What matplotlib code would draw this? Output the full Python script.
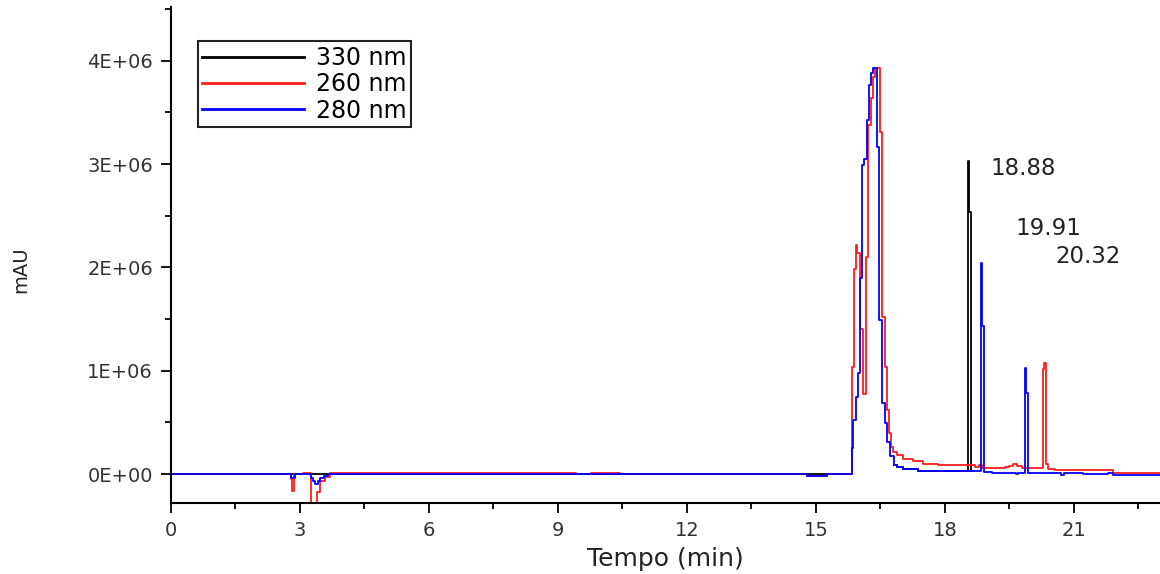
import numpy as np
import matplotlib
matplotlib.use("Agg")
import matplotlib.pyplot as plt
from matplotlib.ticker import MultipleLocator, FuncFormatter

# retention time (min) / signal in millions of mAU, drawn as steps
t_330 = [0, 15.83, 16.81, 16.88, 17.02, 17.37, 18.53, 18.56, 18.61, 18.64]
y_330 = [0, np.nan, 0.09, 0.07, 0.05, 0.03, 3.03, 2.54, 0.03, np.nan]

t_260 = [0, 2.79, 2.81, 2.86, 3.07, 3.25, 3.39, 3.47, 3.58, 3.70,
         9.42, 9.77, 10.44, 14.80, 15.26, 15.83, 15.88, 15.92, 15.96, 16.02,
         16.10, 16.16, 16.20, 16.27, 16.32, 16.38, 16.48, 16.53, 16.60, 16.65,
         16.70, 16.74, 16.80, 16.88, 17.02, 17.26, 17.50, 17.84, 18.70, 18.78,
         18.85, 19.40, 19.50, 19.58, 19.68, 19.80, 20.27, 20.31, 20.35, 20.40,
         20.56, 21.90, 23.0]
y_260 = [0, -0.05, -0.16, 0, 0.01, -0.32, -0.17, -0.07, -0.03, 0.015,
         0, 0.015, 0, -0.015, 0, 1.04, 1.98, 2.22, 2.14, 1.40,
         0.77, 2.10, 3.38, 3.64, 3.84, 3.93, 3.31, 1.52, 1.04, 0.62,
         0.40, 0.26, 0.21, 0.18, 0.15, 0.13, 0.10, 0.09, 0.07, 0.09,
         0.06, 0.07, 0.08, 0.10, 0.08, 0.06, 1.02, 1.07, 0.10, 0.05,
         0.04, 0.01, 0.01]

t_280 = [0, 2.79, 2.88, 3.26, 3.30, 3.35, 3.42, 3.47, 3.56, 3.65,
         14.80, 15.26, 15.83, 15.86, 15.92, 15.97, 16.02, 16.06, 16.12, 16.18,
         16.23, 16.29, 16.33, 16.42, 16.47, 16.53, 16.60, 16.65, 16.72, 16.81,
         16.88, 17.02, 17.37, 18.84, 18.87, 18.91, 19.10, 19.64, 19.70, 19.86,
         19.89, 19.93, 20.70, 20.76, 21.20, 21.78, 21.90, 23.0]
y_280 = [0, -0.04, 0, -0.04, -0.07, -0.10, -0.07, -0.04, -0.02, 0,
         -0.015, 0, 0.25, 0.52, 0.75, 0.98, 1.90, 2.99, 3.05, 3.43,
         3.77, 3.88, 3.93, 3.17, 1.49, 0.69, 0.49, 0.31, 0.17, 0.09,
         0.07, 0.05, 0.03, 2.04, 1.43, 0.02, 0.01, 0.0, 0.01, 1.03,
         0.78, 0.01, -0.005, 0.01, 0.0, 0.01, -0.005, -0.005]

labels = ["330 nm", "260 nm", "280 nm"]
colors = ["black", "#ff1a1a", "#0000ff"]
peak_names = ["18.88", "19.91", "20.32"]
peak_pos = [(19.05, 2.96), (19.63, 2.38), (20.56, 2.11)]

fig = plt.figure(figsize=(11.6, 5.74), dpi=100)
ax = fig.add_axes([0.1474, 0.1237, 0.8526, 0.8641])

series = [(t_330, y_330), (t_260, y_260), (t_280, y_280)]
for (t, y), lab, c in zip(series, labels, colors):
    ax.plot(t, np.array(y) * 1e6, drawstyle="steps-post", color=c, lw=1.3, label=lab)

for name, (px, py) in zip(peak_names, peak_pos):
    ax.text(px, py * 1e6, name, fontsize=16.5, color="#222222", va="center", ha="left")

ax.set_xlim(0, 23)
ax.set_ylim(-0.28e6, 4.52e6)
ax.xaxis.set_major_locator(MultipleLocator(3))
ax.xaxis.set_minor_locator(MultipleLocator(1.5))
ax.yaxis.set_major_locator(MultipleLocator(1e6))
ax.yaxis.set_minor_locator(MultipleLocator(0.5e6))
ax.yaxis.set_major_formatter(FuncFormatter(lambda v, _: f"{v:.0E}"))

for s in ["top", "right"]:
    ax.spines[s].set_visible(False)
for s in ["left", "bottom"]:
    ax.spines[s].set_linewidth(1.5)
ax.tick_params(which="major", length=7, width=1.3, labelsize=14, labelcolor="#333333", pad=6)
ax.tick_params(which="minor", length=4, width=1.3)

ax.set_xlabel("Tempo (min)", fontsize=18, color="#222222", labelpad=5)
ax.set_ylabel("mAU", fontsize=14, color="#222222")
ax.yaxis.set_label_coords(-0.142, 0.47)

leg = ax.legend(loc="upper left", bbox_to_anchor=(0.027, 0.931), fontsize=17,
                handlelength=4.3, handletextpad=0.5, labelspacing=0.1,
                borderpad=0.2, borderaxespad=0, fancybox=False, framealpha=1)
leg.get_frame().set_edgecolor("#222222")
leg.get_frame().set_linewidth(1.5)
for line in leg.get_lines():
    line.set_linewidth(2)

fig.savefig("out.png", dpi=100)
